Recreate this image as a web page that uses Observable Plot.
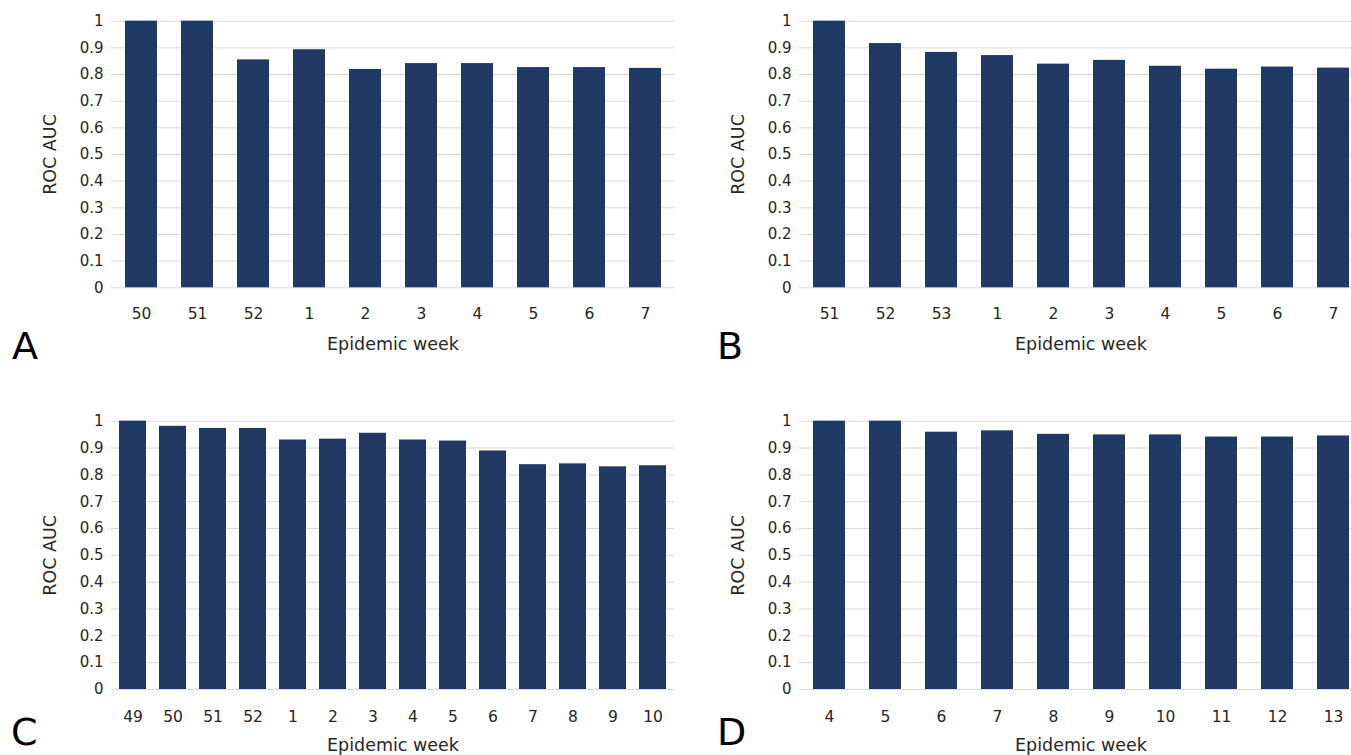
<!DOCTYPE html>
<html>
<head>
<meta charset="utf-8">
<script src="https://cdn.jsdelivr.net/npm/d3@7"></script>
<script src="https://cdn.jsdelivr.net/npm/@observablehq/plot@0.6"></script>
<style>
  html, body { margin: 0; padding: 0; background: #fff; }
  #page { position: relative; width: 1351px; height: 755px; overflow: hidden; background: #fff; }
  .panel { position: absolute; width: 680px; height: 360px; }
  .panel svg { max-width: none !important; }
  .letter { position: absolute; font-family: "DejaVu Sans", sans-serif; font-size: 38px; line-height: 1; color: #000; }
</style>
</head>
<body>
<div id="page">
  <div class="panel" id="pA" style="left:0px; top:0px;"></div>
  <div class="panel" id="pB" style="left:688px; top:0px;"></div>
  <div class="panel" id="pC" style="left:0px; top:400px;"></div>
  <div class="panel" id="pD" style="left:688px; top:400px;"></div>
  <div class="letter" style="left:12px; top:327px;">A</div>
  <div class="letter" style="left:717px; top:327px;">B</div>
  <div class="letter" style="left:11px; top:713px;">C</div>
  <div class="letter" style="left:717px; top:713px;">D</div>
</div>
<script>
// Panel A
const weeksA = ["50", "51", "52", "1", "2", "3", "4", "5", "6", "7"];
const aucA = [1.0, 1.0, 0.855, 0.893, 0.819, 0.841, 0.841, 0.826, 0.826, 0.823];
// Panel B
const weeksB = ["51", "52", "53", "1", "2", "3", "4", "5", "6", "7"];
const aucB = [1.0, 0.916, 0.883, 0.871, 0.839, 0.853, 0.831, 0.820, 0.828, 0.824];
// Panel C
const weeksC = ["49", "50", "51", "52", "1", "2", "3", "4", "5", "6", "7", "8", "9", "10"];
const aucC = [1.0, 0.981, 0.973, 0.973, 0.930, 0.933, 0.955, 0.930, 0.926, 0.889, 0.838, 0.841, 0.830, 0.834];
// Panel D
const weeksD = ["4", "5", "6", "7", "8", "9", "10", "11", "12", "13"];
const aucD = [1.0, 1.0, 0.959, 0.964, 0.951, 0.949, 0.949, 0.941, 0.941, 0.945];

const yTicks = [0, 0.1, 0.2, 0.3, 0.4, 0.5, 0.6, 0.7, 0.8, 0.9, 1];
const yLabel = "ROC AUC";
const xLabel = "Epidemic week";

const FONT = "DejaVu Sans, sans-serif";
const BAR = "#203864";
const GRID = "#d9d9d9";
const TEXT = "#262626";

function panel(weeks, auc, opts) {
  const data = weeks.map((w, i) => ({week: w, auc: auc[i]}));
  const H = 360;
  return Plot.plot({
    width: 680,
    height: H,
    marginLeft: 111,
    marginRight: 6,
    marginTop: opts.top,
    marginBottom: H - opts.zero,
    style: {fontFamily: FONT, fontSize: "15px", color: TEXT, background: "transparent", overflow: "visible"},
    x: {domain: weeks, paddingInner: opts.padding, paddingOuter: opts.padding / 2},
    y: {domain: [0, 1]},
    marks: [
      Plot.gridY(yTicks, {stroke: GRID, strokeOpacity: 1, strokeWidth: 1}),
      Plot.barY(data, {x: "week", y: "auc", fill: BAR}),
      Plot.axisX({
        tickSize: 0, tickPadding: opts.tickPadX, fontSize: 15.5,
        label: null
      }),
      Plot.axisX({
        tickSize: 0, ticks: [], fontSize: 17.5,
        label: xLabel, labelAnchor: "center", labelOffset: opts.xLabelOffset, labelArrow: "none"
      }),
      Plot.axisY(yTicks, {
        tickSize: 0, tickPadding: 8, fontSize: 15,
        tickFormat: d3.format("~g"),
        label: null
      }),
      Plot.axisY([], {
        tickSize: 0, fontSize: 17.5,
        label: yLabel, labelAnchor: "center", labelOffset: 68, labelArrow: "none"
      })
    ]
  });
}

document.getElementById("pA").appendChild(panel(weeksA, aucA, {top: 20.7, zero: 287.3, padding: 0.43, tickPadX: 20, xLabelOffset: 62}));
document.getElementById("pB").appendChild(panel(weeksB, aucB, {top: 20.7, zero: 287.3, padding: 0.43, tickPadX: 20, xLabelOffset: 62}));
document.getElementById("pC").appendChild(panel(weeksC, aucC, {top: 20.7, zero: 289, padding: 0.32, tickPadX: 21, xLabelOffset: 61}));
document.getElementById("pD").appendChild(panel(weeksD, aucD, {top: 20.7, zero: 289, padding: 0.43, tickPadX: 21, xLabelOffset: 61}));
</script>
</body>
</html>
